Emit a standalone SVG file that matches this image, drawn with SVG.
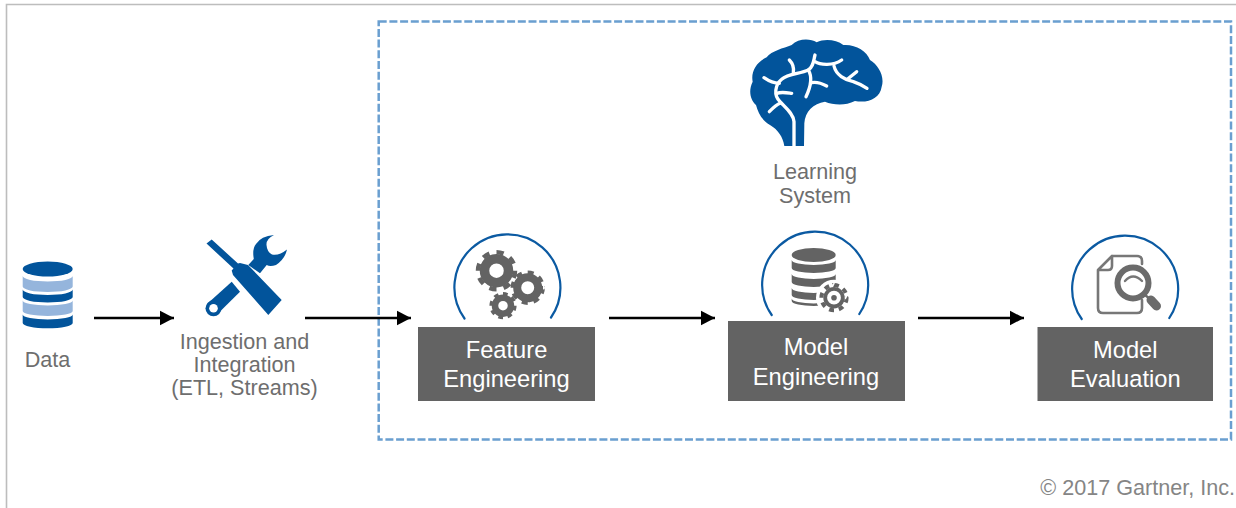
<svg xmlns="http://www.w3.org/2000/svg" width="1236" height="508" viewBox="0 0 1236 508">
<defs>
<style>
.lbl{font-family:"Liberation Sans",Arial,sans-serif;font-size:21.6px;fill:#6e6e6e;text-anchor:middle}
.box{font-family:"Liberation Sans",Arial,sans-serif;font-size:23.7px;fill:#fff;text-anchor:middle}
.rect{fill:#636363}
.arc{fill:none;stroke:#0b5aa2;stroke-width:2.2;stroke-linecap:round}
.blue{fill:#02549b}
.light{fill:#95b5dc}
.grey{fill:#636363}
.conn{stroke:#000;stroke-width:2.6;fill:none;marker-end:url(#arrow)}
.gearbody{fill:none;stroke:#636363}
.teeth{fill:none;stroke:#636363;stroke-dasharray:1 1}
.doc{fill:none;stroke:#777;stroke-width:2.6;stroke-linecap:round;stroke-linejoin:round}
</style>
<marker id="arrow" markerUnits="userSpaceOnUse" markerWidth="15" markerHeight="16" refX="14.5" refY="8" orient="auto">
<path d="M0 0.5L14.5 8L0 15.5z" fill="#000"/>
</marker>
</defs>
<rect width="1236" height="508" fill="#fff"/>
<path d="M6.5 508V4.5H1236" fill="none" stroke="#bdbdbd" stroke-width="1.6"/>

<g id="learning-system">
<rect x="378.7" y="21.5" width="852.3" height="418" fill="none" stroke="#6a9fd0" stroke-width="2.5" stroke-dasharray="8 2.7"/>
<g transform="translate(730 30) scale(.33333)">
<path class="blue" d="M163 348C158 320 145 300 120 285C95 270 85 250 78 225C60 210 55 180 68 155C62 125 80 95 110 82C125 62 160 55 185 45C205 25 240 25 260 37C285 25 320 30 340 45C375 42 410 62 420 90C445 105 465 140 455 170C450 205 415 220 375 213C345 228 310 225 285 215C250 220 225 245 223 280L222 348z"/>
<g fill="none" stroke="#fff" stroke-width="10" stroke-linecap="round" stroke-linejoin="round">
<path d="M192 350V275C190 250 165 232 150 215C130 195 135 165 155 148C175 130 210 132 235 120C250 110 250 95 255 75"/>
<path d="M255 95C270 105 310 108 335 90"/>
<path d="M312 108C318 135 345 150 370 155C385 160 400 168 411 175"/>
<path d="M352 148L380 125"/>
<path d="M235 120C250 145 240 175 228 200"/>
<path d="M245 158C260 155 275 160 290 168"/>
<path d="M140 190C155 185 170 188 185 190"/>
<path d="M148 160C130 160 115 152 102 143"/>
<path d="M190 128C192 115 188 100 178 90"/>
<path d="M150 220C138 225 128 235 118 245"/>
</g>
</g>
<text class="lbl" x="815" y="179">Learning</text>
<text class="lbl" x="815" y="203">System</text>
</g>

<g id="data">
<ellipse class="blue" cx="47.7" cy="269" rx="25" ry="7.6"/>
<path class="light" d="M22.7 276A25 5.5 0 0 0 72.7 276V286.5A25 5.5 0 0 1 22.7 286.5z"/>
<path class="blue" d="M22.7 289.5A25 5.5 0 0 0 72.7 289.5V297A25 5.5 0 0 1 22.7 297z"/>
<path class="light" d="M22.7 300.5A25 5 0 0 0 72.7 300.5V311A25 5 0 0 1 22.7 311z"/>
<path class="blue" d="M22.7 314.5A25 5 0 0 0 72.7 314.5V323A25 5.3 0 0 1 22.7 323z"/>
<text class="lbl" x="47.5" y="367">Data</text>
</g>

<g id="ingestion">
<path class="blue" d="M207 304L231.700 281.700L240 291.700L220 311.500L212 316z"/>
<circle class="blue" cx="213.500" cy="308.300" r="8"/>
<circle cx="213.500" cy="308.300" r="4.300" fill="#fff"/>
<path class="blue" d="M248.300 265L253.800 259Q252 249 256 244Q261 236 274 235Q266 239 266.500 245Q267 252 272 254.500Q279 256 287 249.500Q285 259 276 265Q270 267 266.700 265L260 273.300z"/>
<path class="blue" d="M206.500 243.500L211.700 239.500L238 263.500L240 263L248 265L281.700 300L268.300 315L233 275L231.700 270.500L233.500 268.500z"/>
<text class="lbl" x="244.500" y="349">Ingestion and</text>
<text class="lbl" x="244.500" y="372">Integration</text>
<text class="lbl" x="244.500" y="395">(ETL, Streams)</text>
</g>

<g id="feature-engineering">
<path class="arc" d="M464.500 318.500A53 53 0 1 1 551 317.500"/>
<circle class="gearbody" cx="496.500" cy="270.700" r="12" stroke-width="9.500"/>
<circle class="teeth" cx="496.500" cy="270.700" r="18.500" stroke-width="4.500" pathLength="16"/>
<circle class="gearbody" cx="527.700" cy="287.700" r="10.500" stroke-width="8"/>
<circle class="teeth" cx="527.700" cy="287.700" r="15.300" stroke-width="3.800" pathLength="16"/>
<circle class="gearbody" cx="503" cy="305.700" r="8" stroke-width="6.500"/>
<circle class="teeth" cx="503" cy="305.700" r="12" stroke-width="3.200" pathLength="16"/>
<rect class="rect" x="418" y="327" width="177" height="74"/>
<text class="box" x="506.500" y="357.500">Feature</text>
<text class="box" x="506.500" y="387">Engineering</text>
</g>

<g id="model-engineering">
<path class="arc" d="M771.700 315A53 53 0 1 1 859.300 314"/>
<ellipse class="grey" cx="813.700" cy="255" rx="22" ry="7"/>
<path class="grey" d="M791.700 260A22 5 0 0 0 835.700 260V268A22 5 0 0 1 791.700 268z"/>
<path class="grey" d="M791.700 274A22 5 0 0 0 835.700 274V282A22 5 0 0 1 791.700 282z"/>
<path class="grey" d="M791.700 288A22 5 0 0 0 835.700 288V295A22 5 0 0 1 791.700 295z"/>
<path class="grey" d="M791.700 298.500A22 5 0 0 0 835.700 298.500V301A22 5 0 0 1 791.700 301z"/>
<circle cx="834" cy="297.700" r="18" fill="#fff"/>
<circle class="gearbody" cx="834" cy="297.700" r="8.800" stroke-width="3.800"/>
<circle class="teeth" cx="834" cy="297.700" r="12.600" stroke-width="4" pathLength="16"/>
<circle class="grey" cx="834" cy="297.700" r="2.800"/>
<rect class="rect" x="728" y="321" width="177" height="80"/>
<text class="box" x="816" y="355">Model</text>
<text class="box" x="816" y="384.500">Engineering</text>
</g>

<g id="model-evaluation">
<path class="arc" d="M1081.700 319A53 53 0 1 1 1169.300 318"/>
<path class="doc" d="M1112 256H1137Q1142 256 1142 261V264M1142 300V308Q1142 313 1137 313H1103Q1098 313 1098 308V270L1112 256V266Q1112 270 1108 270H1098"/>
<circle cx="1133" cy="283" r="15.500" fill="#fff" stroke="#6b6b6b" stroke-width="6"/>
<path d="M1125 281Q1133 272 1142 281" fill="none" stroke="#777" stroke-width="2.400" stroke-linecap="round"/>
<path d="M1145 295L1150 299" stroke="#6b6b6b" stroke-width="2.400" fill="none"/>
<path d="M1151 300L1156.500 306" stroke="#6b6b6b" stroke-width="9" stroke-linecap="round" fill="none"/>
<rect class="rect" x="1037.500" y="327" width="175.500" height="74"/>
<text class="box" x="1125.300" y="357.500">Model</text>
<text class="box" x="1125.300" y="387">Evaluation</text>
</g>

<g id="connectors">
<path class="conn" d="M94 318H174"/>
<path class="conn" d="M305 318H411"/>
<path class="conn" d="M609 318H715"/>
<path class="conn" d="M918 318H1024"/>
</g>

<text id="copyright" x="1235" y="495" font-family="'Liberation Sans',Arial,sans-serif" font-size="21.600" fill="#858585" text-anchor="end">© 2017 Gartner, Inc.</text>
</svg>
